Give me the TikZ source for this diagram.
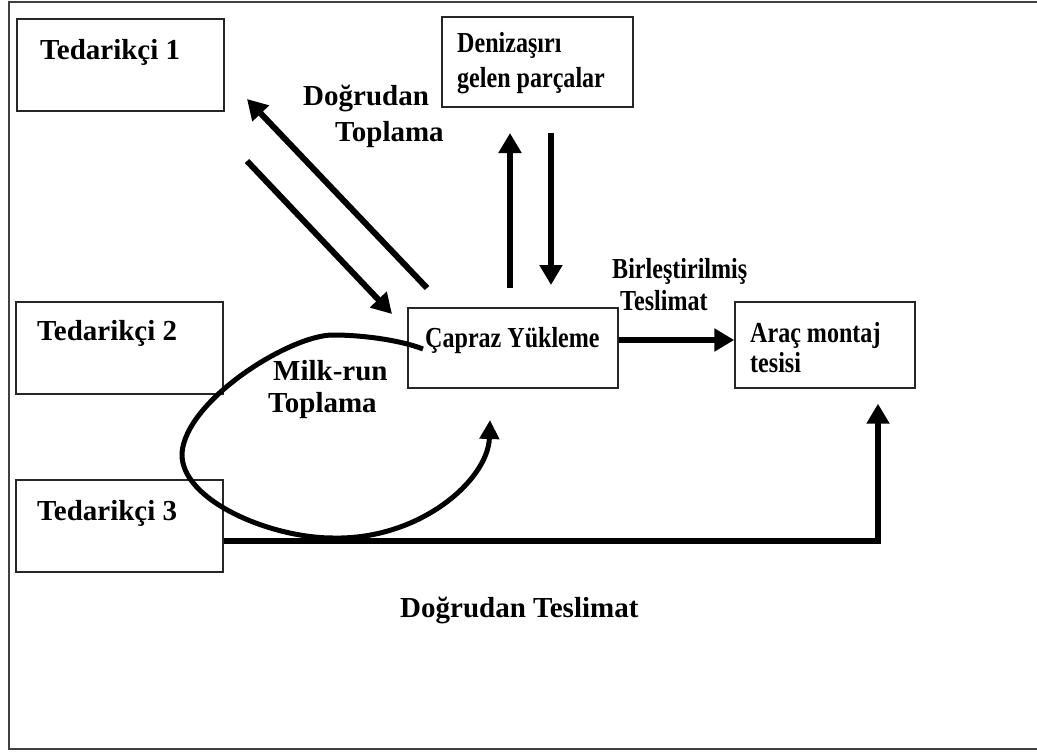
\documentclass[tikz,border=0pt]{standalone}
\usepackage{fontspec}
\setmainfont{Liberation Serif}
\newfontfamily\narrowserif[FakeStretch=0.83]{Liberation Serif}
\usetikzlibrary{arrows.meta}

\begin{document}
\begin{tikzpicture}[x=1pt,y=1pt,
  box/.style={draw=black!85, line width=1.4pt, rectangle, inner sep=0pt},
  bigtxt/.style={inner sep=0pt, anchor=base west, font=\fontsize{29}{32}\selectfont\bfseries},
  smalltxt/.style={inner sep=0pt, anchor=base west, font=\narrowserif\fontsize{29}{32}\selectfont\bfseries},
  arr/.style={line width=6pt, -{Triangle[length=20pt,width=22pt]}},
  thinarr/.style={line width=5pt, -{Triangle[length=19pt,width=19pt]}}
]
\useasboundingbox (0,0) rectangle (1037,-752);

% outer frame, open on the right
\draw[line width=2pt, black!75] (1040,-2) -- (9,-2) -- (9,-749) -- (1040,-749);

% boxes
\node[box, minimum width=207pt, minimum height=92pt] (t1) at (120.5,-65) {};
\node[box, minimum width=207pt, minimum height=92pt] (t2) at (119.5,-348) {};
\node[box, minimum width=207pt, minimum height=92pt] (t3) at (119.5,-526) {};
\node[box, minimum width=191pt, minimum height=90pt] (den) at (537.5,-62) {};
\node[box, minimum width=210pt, minimum height=80pt] (cross) at (513,-348) {};
\node[box, minimum width=180pt, minimum height=86pt] (plant) at (825,-345) {};

% box texts
\node[bigtxt] (t1txt) at (40,-60) {Tedarikçi 1};
\node[bigtxt] (t2txt) at (37,-340) {Tedarikçi 2};
\node[bigtxt] (t3txt) at (37,-520) {Tedarikçi 3};
\node[smalltxt] (denA) at (457,-53) {Denizaşırı};
\node[smalltxt] (denB) at (457,-88) {gelen parçalar};
\node[smalltxt] (crosstxt) at (425,-347) {Çapraz Yükleme};
\node[smalltxt] (plantA) at (750,-342) {Araç montaj};
\node[smalltxt] (plantB) at (750,-372) {tesisi};

% flow labels
\node[bigtxt] (dtA) at (303,-106) {Doğrudan};
\node[bigtxt] (dtB) at (335,-142) {Toplama};
\node[smalltxt] (btA) at (612,-278) {Birleştirilmiş};
\node[smalltxt] (btB) at (620,-310) {Teslimat};
\node[bigtxt] (mrA) at (273,-380) {Milk-run};
\node[bigtxt] (mrB) at (268,-412) {Toplama};
\node[bigtxt] (dtl) at (400,-617) {Doğrudan Teslimat};

% end points of the free-standing arrows
\coordinate (d1s) at (427,-288);
\coordinate (d1e) at (247,-99);
\coordinate (d2s) at (247,-161);
\coordinate (d2e) at (392,-314);
\coordinate (ups) at (510,-288);
\coordinate (upe) at (510,-133);
\coordinate (dns) at (551,-133);
\coordinate (dne) at (551,-285);

% milk-run loop waypoints
\coordinate (mr0) at (423,-349);
\coordinate (mr1) at (333,-335);
\coordinate (mr2) at (182,-453);
\coordinate (mr3) at (333,-538);
\coordinate (mr4) at (490,-420);

% direct collection between supplier 1 and cross-dock
\draw[arr] (d1s) -- (d1e);
\draw[arr] (d2s) -- (d2e);

% overseas parts
\draw[arr] (ups) -- (upe);
\draw[arr] (dns) -- (dne);

% consolidated delivery
\draw[arr] ([yshift=8pt]cross.east) -- ([yshift=8pt]cross.east -| plant.west);

% direct delivery from supplier 3
\draw[arr, line width=5.5pt] ([yshift=-15pt]t3.east) -| ([xshift=53pt,yshift=-15pt]plant.south);

% milk-run loop
\draw[thinarr] (mr0)
  .. controls (400,-340) and (362,-335) .. (mr1)
  .. controls (290,-335) and (186,-400) .. (mr2)
  .. controls (180,-500) and (270,-538) .. (mr3)
  .. controls (420,-540) and (488,-480) .. (mr4);
\end{tikzpicture}
\end{document}
